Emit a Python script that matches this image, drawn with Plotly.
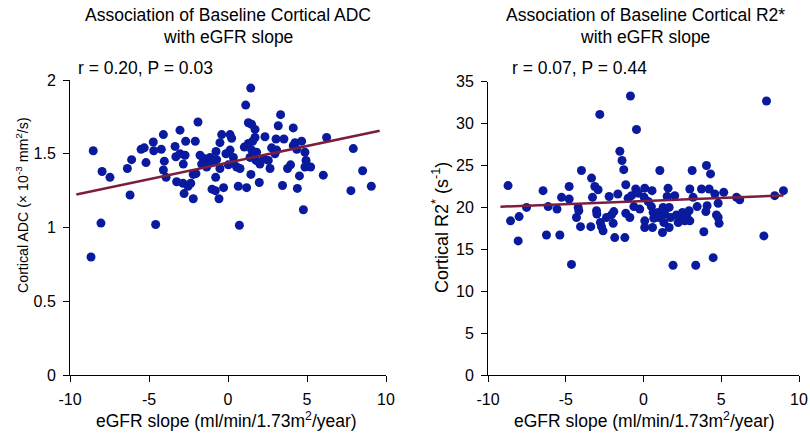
import plotly.graph_objects as go

# ---------------- data ----------------
adc_slope = [-8.53, -7.97, -7.47, -8.04, -8.67, -6.37, -6.10, -6.20, -5.50, -5.30,
             -5.19, -4.73, -4.70, -4.09, -4.22, -4.03, -4.09, -3.92, -4.58, -3.35,
             -3.04, -3.30, -3.04, -2.72, -2.68, -2.83, -3.25, -2.85, -2.53, -2.36,
             -2.78, -2.20, -2.20, -2.07, -1.90, -2.03, -1.77, -1.56, -1.35, -1.14,
             -1.67, -1.35, -1.04, -0.76, -0.51, -0.40, -0.72, -0.51, -0.78, -1.01,
             -0.80, -0.57, -0.28, 0.13, 0.23, 0.13, -0.13, 0.34, 0.02, 0.34,
             0.55, 0.76, 0.65, 1.18, 0.72, 1.44, 1.12, 1.29, 1.49, 1.71,
             1.03, 1.29, 1.56, 1.71, 1.50, 1.81, 1.39, 1.77, 2.02, 1.45,
             1.98, 2.34, 2.28, 2.55, 2.66, 2.76, 3.04, 3.18, 3.33, 2.97,
             3.08, 3.45, 3.54, 3.77, 3.96, 4.13, 4.13, 4.24, 4.35, 4.66,
             4.39, 4.52, 4.87, 4.94, 4.87, 5.23, 4.77, 6.03, 6.24, 7.78,
             7.93, 8.52, 9.07, 4.98]
adc_value = [1.52, 1.38, 1.34, 1.03, 0.80, 1.40, 1.46, 1.22, 1.53, 1.54,
             1.44, 1.58, 1.52, 1.63, 1.53, 1.45, 1.39, 1.34, 1.02, 1.55,
             1.66, 1.48, 1.50, 1.49, 1.585, 1.43, 1.31, 1.30, 1.28, 1.30,
             1.23, 1.195, 1.36, 1.585, 1.715, 1.365, 1.49, 1.47, 1.45, 1.475,
             1.43, 1.41, 1.44, 1.515, 1.575, 1.63, 1.46, 1.40, 1.34, 1.26,
             1.25, 1.195, 1.27, 1.63, 1.605, 1.525, 1.50, 1.475, 1.425, 1.435,
             1.41, 1.40, 1.28, 1.27, 1.015, 1.945, 1.83, 1.71, 1.70, 1.665,
             1.545, 1.57, 1.585, 1.61, 1.525, 1.51, 1.475, 1.455, 1.43, 1.36,
             1.305, 1.615, 1.465, 1.455, 1.40, 1.54, 1.60, 1.69, 1.765, 1.50,
             1.525, 1.285, 1.60, 1.40, 1.425, 1.675, 1.555, 1.575, 1.53, 1.585,
             1.265, 1.35, 1.51, 1.455, 1.41, 1.41, 1.12, 1.355, 1.61, 1.25,
             1.535, 1.385, 1.28, 1.42]

r2_slope = [-8.71, -8.55, -8.00, -7.52, -8.06, -6.46, -6.13, -6.24, -5.56, -5.27,
            -5.38, -4.78, -4.78, -4.63, -4.20, -4.16, -4.31, -4.05, -3.99, -3.34,
            -3.28, -3.13, -2.92, -3.02, -3.00, -2.81, -2.77, -2.70, -2.60, -2.38,
            -2.21, -2.06, -1.91, -1.95, -1.65, -1.85, -1.52, -1.38, -1.27, -1.20,
            -1.14, -1.14, -0.88, -0.84, -0.99, -0.77, -0.62, -0.50, -0.45, -0.35,
            -0.24, 0.08, 0.04, 0.08, 0.08, 0.30, 0.55, 0.51, 0.62, 0.66,
            0.58, 1.05, 0.94, 1.00, 1.22, 1.26, 1.31, 1.37, 1.58, 1.52,
            1.65, 1.65, 1.74, 2.01, 1.90, 2.12, 2.23, 2.38, 2.51, 2.66,
            2.77, 2.98, 2.93, 2.98, 3.13, 3.19, 3.36, 3.45, 3.73, 3.88,
            4.05, 4.22, 4.31, 4.09, 4.01, 4.48, 4.59, 4.80, 4.69, 4.80,
            4.86, 5.16, 5.98, 6.19, 7.74, 7.91, 8.44, 9.00, -3.39]
r2_value = [22.6, 18.4, 18.9, 20.0, 16.0, 22.0, 20.1, 16.7, 19.8, 21.2,
            16.7, 22.5, 21.0, 13.2, 20.0, 19.6, 18.8, 17.7, 24.4, 23.5,
            21.2, 22.5, 22.1, 19.6, 19.2, 31.1, 18.2, 17.7, 17.2, 18.8,
            21.3, 19.1, 19.5, 18.1, 21.6, 16.4, 26.7, 25.6, 24.5, 16.4,
            22.7, 19.3, 18.8, 33.3, 21.1, 21.4, 20.1, 22.2, 29.3, 21.7,
            19.8, 22.3, 21.2, 18.4, 17.6, 20.7, 22.0, 20.1, 19.4, 18.7,
            17.6, 24.4, 19.4, 18.8, 17.0, 20.0, 18.2, 19.2, 22.3, 21.3,
            20.0, 17.6, 18.8, 21.4, 13.1, 19.1, 18.2, 18.8, 19.4, 18.4,
            19.1, 18.4, 19.6, 22.2, 24.4, 21.2, 13.1, 20.1, 22.2, 17.1,
            25.0, 22.2, 24.0, 20.2, 19.5, 14.0, 21.6, 20.5, 19.1, 18.8,
            18.1, 21.8, 21.2, 20.9, 16.6, 32.7, 21.4, 22.0, 17.7]

# regression lines (x extent, intercept, slope)
adc_fit_x = [-9.6, 9.6]
adc_fit_intercept = 1.44
adc_fit_slope = 0.0225
r2_fit_x = [-9.2, 9.0]
r2_fit_intercept = 20.76
r2_fit_slope = 0.0735

x_ticks = [-10, -5, 0, 5, 10]
x_ticktext = ["-10", "-5", "0", "5", "10"]
adc_ticks = [0, 0.5, 1, 1.5, 2]
adc_ticktext = ["0", "0.5", "1", "1.5", "2"]
r2_ticks = [0, 5, 10, 15, 20, 25, 30, 35]
r2_ticktext = ["0", "5", "10", "15", "20", "25", "30", "35"]

title_line1 = ["Association of Baseline Cortical ADC",
               "Association of Baseline Cortical R2*"]
title_line2 = ["with eGFR slope", "with eGFR slope"]
stats = ["r = 0.20, P = 0.03", "r = 0.07, P = 0.44"]
x_title = "eGFR slope (ml/min/1.73m<sup>2</sup>/year)"
y_titles = ["Cortical ADC (× 10<sup>-3</sup> mm<sup>2</sup>/s)",
            "Cortical R2<sup>*</sup> (s<sup>-1</sup>)"]

# ---------------- style ----------------
W, H = 810, 440
FONT = "Liberation Sans, Arial, Helvetica, sans-serif"
DOT = "#0a1a9e"
LINE = "#7b1e3e"

def px(x):
    return x / W

def py(y):
    return 1 - y / H

fig = go.Figure()

fig.add_trace(go.Scatter(x=adc_slope, y=adc_value, mode="markers",
                         marker=dict(color=DOT, size=9, line=dict(width=0)),
                         xaxis="x", yaxis="y", showlegend=False))
fig.add_trace(go.Scatter(x=adc_fit_x,
                         y=[adc_fit_intercept + adc_fit_slope * v for v in adc_fit_x],
                         mode="lines", line=dict(color=LINE, width=2.5),
                         xaxis="x", yaxis="y", showlegend=False))
fig.add_trace(go.Scatter(x=r2_slope, y=r2_value, mode="markers",
                         marker=dict(color=DOT, size=9, line=dict(width=0)),
                         xaxis="x2", yaxis="y2", showlegend=False))
fig.add_trace(go.Scatter(x=r2_fit_x,
                         y=[r2_fit_intercept + r2_fit_slope * v for v in r2_fit_x],
                         mode="lines", line=dict(color=LINE, width=2.5),
                         xaxis="x2", yaxis="y2", showlegend=False))

axis_common = dict(showgrid=False, zeroline=False, showline=True, linecolor="black",
                   linewidth=1, ticks="outside", ticklen=6, tickcolor="black",
                   tickwidth=1, tickfont=dict(size=16, color="black", family=FONT),
                   ticklabelstandoff=4, automargin=False)

fig.update_layout(
    width=W, height=H,
    margin=dict(l=0, r=0, t=0, b=0, autoexpand=False),
    paper_bgcolor="white", plot_bgcolor="white",
    font=dict(family=FONT, color="black", size=16),
    xaxis=dict(domain=[px(70), px(386)], range=[-10, 10], tickvals=x_ticks,
               ticktext=x_ticktext, anchor="y", **axis_common),
    yaxis=dict(domain=[py(375), py(80)], range=[0, 2], tickvals=adc_ticks,
               ticktext=adc_ticktext, anchor="x", **axis_common),
    xaxis2=dict(domain=[px(488), px(799)], range=[-10, 10], tickvals=x_ticks,
                ticktext=x_ticktext, anchor="y2", **axis_common),
    yaxis2=dict(domain=[py(375), py(81.7)], range=[0, 35], tickvals=r2_ticks,
                ticktext=r2_ticktext, anchor="x2", **axis_common),
)

def text_ann(text, x, y, size, xanchor="center", angle=0):
    return dict(text=text, x=px(x), y=py(y), xref="paper", yref="paper",
                showarrow=False, xanchor=xanchor, yanchor="middle", textangle=angle,
                borderpad=0, font=dict(size=size, family=FONT, color="black"))

ann = []
centers = [228, 645]
for i in range(2):
    ann.append(text_ann(title_line1[i], centers[i], 15, 17.5))
    ann.append(text_ann(title_line2[i], centers[i], 37, 17.5))
    ann.append(text_ann(x_title, centers[i] - 1, 420, 17.5))
ann.append(text_ann(stats[0], 77, 68, 17.5, xanchor="left"))
ann.append(text_ann(stats[1], 511, 68, 17.5, xanchor="left"))
ann.append(text_ann(y_titles[0], 22, 205, 14.2, angle=-90))
ann.append(text_ann(y_titles[1], 441, 227, 18, angle=-90))
fig.update_layout(annotations=ann)

# remove the default page margin so the 810x440 figure fills the window exactly
fig.write_html("out.html", config={"displayModeBar": False},
               post_script="document.body.style.margin='0';")
